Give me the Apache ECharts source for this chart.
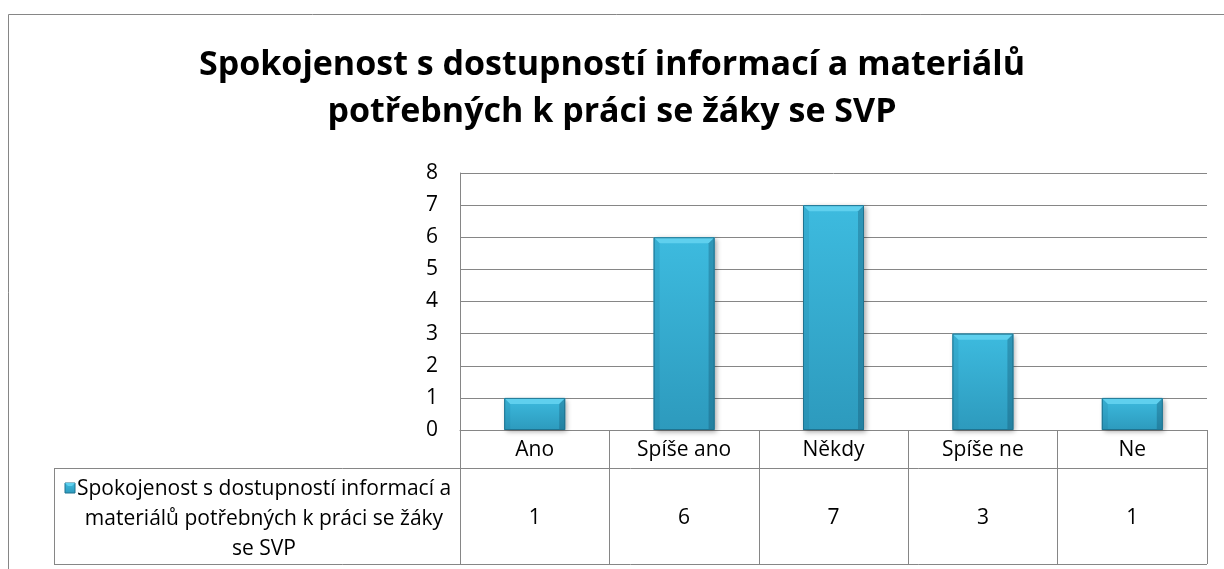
<!DOCTYPE html>
<html>
<head>
<meta charset="utf-8">
<script src="https://cdn.jsdelivr.net/npm/echarts@6/dist/echarts.min.js"></script>
<style>
  html, body { margin: 0; padding: 0; background: #fff; }
  #chart { width: 1224px; height: 569px; }
</style>
</head>
<body>
<div id="chart"></div>
<script>
const titleLines = ['Spokojenost s dostupností informací a materiálů', 'potřebných k práci se žáky se SVP'];
const categories = ['Ano', 'Spíše ano', 'Někdy', 'Spíše ne', 'Ne'];
const seriesName = 'Spokojenost s dostupností informací a materiálů potřebných k práci se žáky se SVP';
const seriesLines = ['Spokojenost s dostupností informací a', 'materiálů potřebných k práci se žáky', 'se SVP'];
const values = [1, 6, 7, 3, 1];
const yTicks = [0, 8, 1]; // min, max, interval

const FONT = 'Open Sans';
const LINE = '#868686';
const gridLeft = 460, gridRight = 17, gridTop = 173, gridBottom = 139;
const axisY = 569 - gridBottom;        // y of value 0
const tableRowY = 468, tableEndY = 564, legendLeft = 54;
const plotRight = 1224 - gridRight;
const BAR_W = 61, BEVEL = 6;

const bodyFill = () => new echarts.graphic.LinearGradient(0, 0, 0, 1, [
  { offset: 0, color: '#3dbbdf' },
  { offset: 1, color: '#2d9abd' }
]);

// bevelled bar, positioned through the axes
function renderBar(params, api) {
  const base = api.coord([api.value(0), 0]);
  const tip = api.coord([api.value(0), api.value(1)]);
  const l = base[0] - BAR_W / 2, r = base[0] + BAR_W / 2;
  const t = tip[1], b = base[1];
  const k = Math.min(BEVEL, (b - t) / 3);
  return {
    type: 'group',
    children: [
      { type: 'rect', shape: { x: l, y: t, width: BAR_W, height: b - t },
        style: { fill: bodyFill(), shadowBlur: 5, shadowOffsetX: 2, shadowOffsetY: 2, shadowColor: 'rgba(0,0,0,0.35)' } },
      { type: 'polygon', shape: { points: [[l, t], [r, t], [r - k, t + k], [l + k, t + k]] },
        style: { fill: '#5fd0ee' } },
      { type: 'polygon', shape: { points: [[l, t], [l + k, t + k], [l + k, b - 1], [l, b]] },
        style: { fill: 'rgba(20,90,120,0.12)' } },
      { type: 'polygon', shape: { points: [[r, t], [r, b], [r - k, b - 1], [r - k, t + k]] },
        style: { fill: 'rgba(10,60,85,0.28)' } },
      { type: 'rect', shape: { x: l + 0.5, y: t + 0.5, width: BAR_W - 1, height: b - t - 1 },
        style: { fill: 'none', stroke: '#1f7390', lineWidth: 1 } }
    ]
  };
}

const chart = echarts.init(document.getElementById('chart'), null, { renderer: 'canvas' });

chart.setOption({
  backgroundColor: '#fff',
  animation: false,
  title: {
    text: titleLines.join('\n'),
    left: 'center',
    top: 37,
    textStyle: { fontFamily: FONT, fontSize: 34, fontWeight: 'bold', color: '#000', lineHeight: 47 }
  },
  grid: { left: gridLeft, right: gridRight, top: gridTop, bottom: gridBottom, containLabel: false },
  xAxis: [{
    type: 'category',
    data: categories,
    axisLine: { show: true, lineStyle: { color: LINE, width: 1 } },
    axisTick: { show: true, length: tableEndY - axisY, lineStyle: { color: LINE, width: 1 } },
    axisLabel: { fontFamily: FONT, fontSize: 21, color: '#000', margin: 10 },
    splitLine: { show: false }
  }, {
    type: 'category',
    data: values.map(String),
    position: 'bottom',
    offset: 78,
    axisLine: { show: false },
    axisTick: { show: false },
    axisLabel: { fontFamily: FONT, fontSize: 21, color: '#000', margin: 0 }
  }],
  yAxis: {
    type: 'value',
    min: yTicks[0],
    max: yTicks[1],
    interval: yTicks[2],
    axisLine: { show: true, lineStyle: { color: LINE, width: 1 } },
    axisTick: { show: false },
    axisLabel: { fontFamily: FONT, fontSize: 21, color: '#000', margin: 22 },
    splitLine: { show: true, lineStyle: { color: LINE, width: 1 } }
  },
  series: [{
    name: seriesName,
    type: 'custom',
    renderItem: renderBar,
    encode: { x: 0, y: 1 },
    data: values.map((v, i) => [i, v]),
    z: 3
  }],
  graphic: [
    // outer chart frame
    { type: 'rect', shape: { x: 8.5, y: 14.5, width: 1300, height: 700 }, style: { fill: 'none', stroke: LINE, lineWidth: 1 }, silent: true },
    // data table lines
    { type: 'line', shape: { x1: legendLeft, y1: tableRowY + 0.5, x2: plotRight, y2: tableRowY + 0.5 }, style: { stroke: LINE, lineWidth: 1 } },
    { type: 'line', shape: { x1: legendLeft, y1: tableEndY + 0.5, x2: plotRight, y2: tableEndY + 0.5 }, style: { stroke: LINE, lineWidth: 1 } },
    { type: 'line', shape: { x1: legendLeft + 0.5, y1: tableRowY, x2: legendLeft + 0.5, y2: tableEndY }, style: { stroke: LINE, lineWidth: 1 } },
    // legend key
    { type: 'rect', shape: { x: 65, y: 483, width: 10, height: 10 }, style: { fill: bodyFill(), stroke: '#1f7390', lineWidth: 1 } },
    { type: 'polygon', shape: { points: [[65, 483], [75, 483], [72, 486], [68, 486]] }, style: { fill: '#5fd0ee' } },
    {
      type: 'text',
      x: 264, y: 519,
      style: {
        text: seriesLines.join('\n'),
        fontFamily: FONT, fontSize: 21, fill: '#000',
        lineHeight: 30, align: 'center', verticalAlign: 'middle'
      }
    }
  ]
});
</script>
</body>
</html>
